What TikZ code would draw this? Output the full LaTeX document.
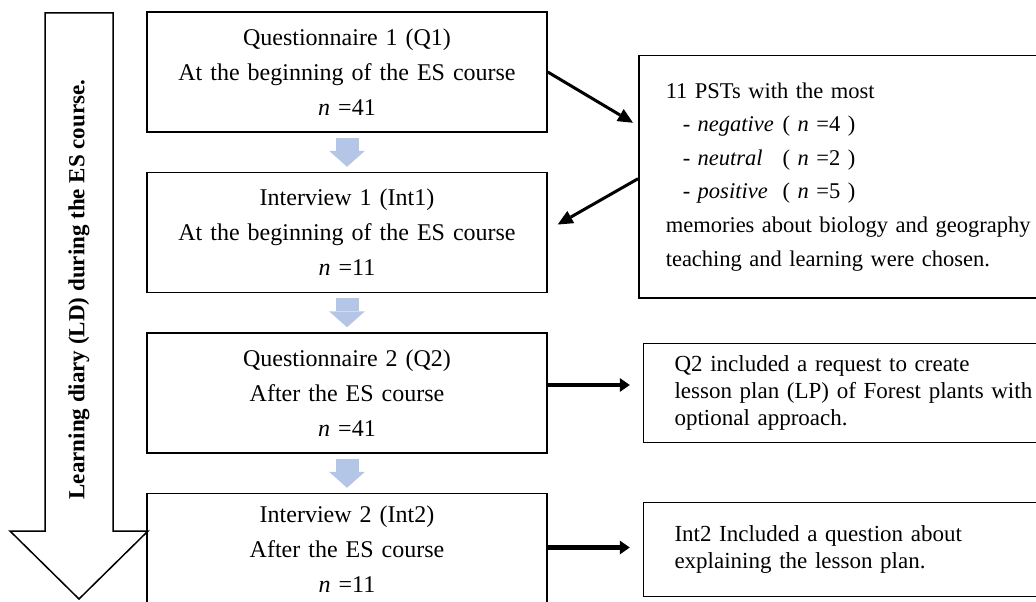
\documentclass[tikz,border=0pt]{standalone}
\usepackage{fontspec}
\setmainfont{Liberation Serif}
\usetikzlibrary{arrows.meta, positioning}
\definecolor{stepblue}{RGB}{180,198,231}
\tikzset{
  stepbox/.style  = {rectangle, draw, line width=1.5pt, minimum width=400pt,
                     text width=380pt, minimum height=120pt, inner sep=0pt,
                     align=center, font=\fontsize{24}{35}\selectfont},
  notebox/.style  = {rectangle, draw, line width=1.5pt, text width=380pt,
                     inner ysep=0pt, align=left, font=\fontsize{23}{27}\selectfont},
  diaryarrow/.style = {draw, line width=1.5pt, fill=white},
  diarytext/.style  = {rotate=90, font=\bfseries\fontsize{23}{28}\selectfont},
  nextstep/.style = {draw=stepblue, line width=23pt,
                     -{Triangle[length=16pt, width=36pt, line width=0pt]},
                     shorten <=5pt, shorten >=5pt},
  pointer/.style  = {line width=3pt, -{Triangle[length=15pt, width=14pt, line width=0pt]}},
  result/.style   = {line width=4.5pt, -{Triangle[length=10pt, width=14pt, line width=0pt]},
                     shorten >=13pt}
}
\newcommand{\moodline}[2]{\hspace*{17pt}- \makebox[85pt][l]{\textit{#1}}( \textit{n} =#2 )}

\begin{document}
\begin{tikzpicture}[x=1pt, y=1pt, node distance=39pt and 95pt]
  \useasboundingbox (0,0) rectangle (1036,-602);
  \clip (0,0) rectangle (1036,-602);

  % learning diary along the whole course
  \draw[diaryarrow] (45,-13) -- (113,-13) -- (113,-531) -- (148,-531)
    -- (79,-599) -- (10,-531) -- (45,-531) -- cycle;
  \node[diarytext] (diary) at (79,-289.5) {Learning diary (LD) during the ES course.};

  \node[stepbox] (q1) at (347,-72)
    {Questionnaire 1 (Q1)\\At the beginning of the ES course\\\textit{n} =41};
  \node[stepbox] (int1) [below=of q1]
    {Interview 1 (Int1)\\At the beginning of the ES course\\\textit{n} =11};
  \node[stepbox] (q2) [below=of int1]
    {Questionnaire 2 (Q2)\\After the ES course\\\textit{n} =41};
  \node[stepbox, minimum height=112pt] (int2) [below=of q2]
    {Interview 2 (Int2)\\After the ES course\\\textit{n} =11};

  \node[notebox, anchor=north west, minimum height=242pt, inner xsep=27pt,
        font=\fontsize{22.5}{33.6}\selectfont] (memo) at (638,-55)
    {11 PSTs with the most\\
     \moodline{negative}{4}\\
     \moodline{neutral}{2}\\
     \moodline{positive}{5}\\
     memories about biology and geography\\
     teaching and learning were chosen.};
  \node[notebox, minimum height=99pt, inner xsep=31pt] (plan) [right=of q2]
    {Q2 included a request to create\\
     lesson plan (LP) of Forest plants with\\
     optional approach.};
  \node[notebox, minimum height=94pt, inner xsep=31pt] (talk) [right=of int2]
    {Int2 Included a question about\\
     explaining the lesson plan.};

  \draw[nextstep] (q1) -- (int1);
  \draw[nextstep] (int1) -- (q2);
  \draw[nextstep] (q2) -- (int2);

  \draw[pointer] (q1.east) -- ([shift={(-5pt,54pt)}]memo.west);
  \draw[pointer] ([yshift=-2pt]memo.west) -- ([shift={(10pt,8pt)}]int1.east);

  \draw[result] ([yshift=8pt]q2.east) -- ([yshift=8pt]plan.west);
  \draw[result] ([yshift=2pt]int2.east) -- ([yshift=2pt]talk.west);
\end{tikzpicture}
\end{document}
